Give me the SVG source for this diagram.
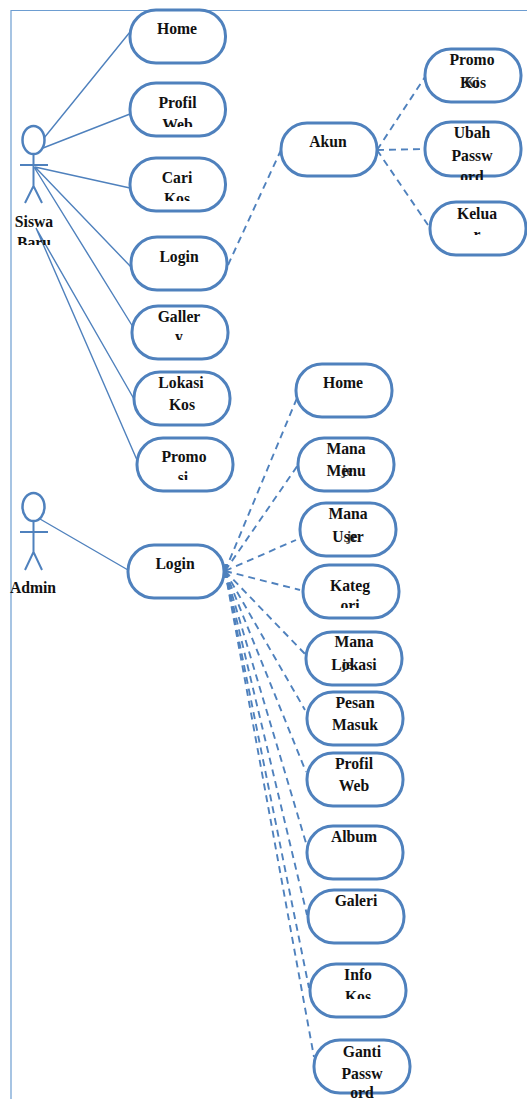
<svg xmlns="http://www.w3.org/2000/svg" width="527" height="1099" viewBox="0 0 527 1099">
<style>
.n{fill:#fff;stroke:#4f81bd;stroke-width:3}
.a{fill:none;stroke:#4f81bd;stroke-width:2.5}
.l{fill:none;stroke:#4f81bd;stroke-width:2}
.s{stroke:#4f81bd;stroke-width:1.4;fill:none}
.d{stroke:#4f81bd;stroke-width:1.9;fill:none;stroke-dasharray:7 5}
.h{font-size:14px;fill:#444}
text{font-family:"Liberation Serif","Times New Roman",serif;font-weight:700;font-size:15.7px;fill:#111;text-anchor:middle}
</style>
<defs>
<marker id="o" markerWidth="8" markerHeight="8" refX="0" refY="4" orient="auto-start-reverse" markerUnits="userSpaceOnUse"><path d="M6 0.5L0 4L6 7.500" fill="none" stroke="#4f81bd" stroke-width="1.6"/></marker>
<clipPath id="c1"><rect x="130" y="83" width="96" height="44"/></clipPath>
<clipPath id="c2"><rect x="130" y="158" width="96" height="43"/></clipPath>
<clipPath id="c3"><rect x="132" y="306" width="96" height="34"/></clipPath>
<clipPath id="c4"><rect x="137" y="438" width="96" height="42"/></clipPath>
<clipPath id="c5"><rect x="430" y="202" width="96" height="33"/></clipPath>
<clipPath id="c6"><rect x="303" y="565" width="96" height="43"/></clipPath>
<clipPath id="c7"><rect x="310" y="964" width="96" height="35"/></clipPath>
<clipPath id="c8"><rect x="0" y="205" width="70" height="40"/></clipPath>
<clipPath id="c9"><rect x="425" y="122" width="96" height="58"/></clipPath>
</defs>
<path id="frame" d="M11 1099V10.500H527" fill="none" stroke="#6d9dd1" stroke-width="1.2"/>
<g id="connectors">
<path class="s" d="M44 138L130 32M43 148L130 114M35 167L130 188M35 167L131 267M34 167L133 327M36 228L134 399M36 228L137 460M40 519L128 570"/>
<path class="d" d="M228 265L281 150"/>
<path class="d" marker-start="url(#o)" d="M377 150L425 77"/>
<path class="d" marker-start="url(#o)" d="M377 150L425 149"/>
<path class="d" marker-start="url(#o)" d="M377 150L428 225"/>
<path class="d" marker-start="url(#o)" d="M225 571L297 398"/>
<path class="d" marker-start="url(#o)" d="M225 571L298 465"/>
<path class="d" marker-start="url(#o)" d="M225 571L296 540"/>
<path class="d" marker-start="url(#o)" d="M225 571L300 590"/>
<path class="d" marker-start="url(#o)" d="M225 571L306 655"/>
<path class="d" marker-start="url(#o)" d="M225 571L305 710"/>
<path class="d" marker-start="url(#o)" d="M225 571L306 772"/>
<path class="d" marker-start="url(#o)" d="M225 571L306 843"/>
<path class="d" marker-start="url(#o)" d="M225 571L307 915"/>
<path class="d" marker-start="url(#o)" d="M225 571L309 988"/>
<path class="d" marker-start="url(#o)" d="M225 571L314 1057"/>
</g>
<g id="actor-siswa">
<ellipse class="a" cx="33.500" cy="140" rx="11" ry="14"/>
<path class="l" d="M33.500 154V186M20 165H48M33.500 186L25 203M33.500 186L42 203"/>
<text x="34" y="227">Siswa</text>
<text x="34" y="248" clip-path="url(#c8)">Baru</text>
</g>
<g id="actor-admin">
<ellipse class="a" cx="33.500" cy="507" rx="11" ry="14"/>
<path class="l" d="M33.500 521V552M20 532H48M33.500 552L25 570M33.500 552L42 570"/>
<text x="33" y="593">Admin</text>
</g>
<g id="home"><rect class="n" x="130" y="10" width="95.500" height="53" rx="26"/><text x="177" y="34">Home</text></g>
<g id="profil-web"><rect class="n" x="130" y="83" width="95.500" height="53" rx="26"/><text x="177.500" y="108">Profil</text><text x="177.500" y="130" clip-path="url(#c1)">Web</text></g>
<g id="cari-kos"><rect class="n" x="130" y="158" width="95.500" height="53" rx="26"/><text x="177" y="183">Cari</text><text x="177" y="204" clip-path="url(#c2)">Kos</text></g>
<g id="login-siswa"><rect class="n" x="131" y="237" width="96" height="53" rx="26"/><text x="179" y="262">Login</text></g>
<g id="gallery"><rect class="n" x="132" y="306" width="96" height="53" rx="26"/><text x="179" y="322">Galler</text><text x="179" y="342" clip-path="url(#c3)">y</text></g>
<g id="lokasi-kos"><rect class="n" x="134" y="372" width="96" height="53" rx="26"/><text x="181" y="388">Lokasi</text><text x="182" y="410">Kos</text></g>
<g id="promosi"><rect class="n" x="137" y="438" width="96" height="53" rx="26"/><text x="184" y="462">Promo</text><text x="183" y="483" clip-path="url(#c4)">si</text></g>
<g id="akun"><rect class="n" x="281" y="123" width="96" height="53" rx="26"/><text x="328" y="147">Akun</text></g>
<g id="promo-kos"><rect class="n" x="425" y="49" width="96" height="53" rx="26"/><text x="472" y="65">Promo</text><text class="h" x="472" y="87">Ki</text><text x="473" y="88">Kos</text></g>
<g id="ubah-password"><rect class="n" x="425" y="122" width="96" height="54" rx="26"/><text x="472" y="138">Ubah</text><text x="472" y="161">Passw</text><text x="472" y="182" clip-path="url(#c9)">ord</text></g>
<g id="keluar"><rect class="n" x="430" y="202" width="96" height="53" rx="26"/><text x="477" y="219">Kelua</text><text x="477" y="240" clip-path="url(#c5)">r</text></g>
<g id="login-admin"><rect class="n" x="128" y="545" width="96" height="53" rx="26"/><text x="175" y="569">Login</text></g>
<g id="home-admin"><rect class="n" x="296" y="364" width="96" height="53" rx="26"/><text x="343" y="388">Home</text></g>
<g id="manajemen-menu"><rect class="n" x="298" y="438" width="96" height="53" rx="26"/><text x="346" y="454">Mana</text><text class="h" x="347" y="475">je</text><text x="346" y="476">Menu</text></g>
<g id="manajemen-user"><rect class="n" x="300" y="503" width="96" height="53" rx="26"/><text x="348" y="519">Mana</text><text class="h" x="352" y="541">je</text><text x="348" y="542">User</text></g>
<g id="kategori"><rect class="n" x="303" y="565" width="96" height="53" rx="26"/><text x="350" y="591">Kateg</text><text x="350" y="611" clip-path="url(#c6)">ori</text></g>
<g id="manajemen-lokasi"><rect class="n" x="306" y="632" width="96" height="53" rx="26"/><text x="354" y="647">Mana</text><text class="h" x="347" y="669">je</text><text x="354" y="670">Lokasi</text></g>
<g id="pesan-masuk"><rect class="n" x="307" y="692" width="96" height="53" rx="26"/><text x="355" y="708">Pesan</text><text x="355" y="730">Masuk</text></g>
<g id="profil-web-admin"><rect class="n" x="307" y="753" width="96" height="53" rx="26"/><text x="354" y="769">Profil</text><text x="354" y="791">Web</text></g>
<g id="album"><rect class="n" x="307" y="826" width="96" height="53" rx="26"/><text x="354" y="842">Album</text></g>
<g id="galeri"><rect class="n" x="308" y="890" width="96" height="53" rx="26"/><text x="356" y="906">Galeri</text></g>
<g id="info-kos"><rect class="n" x="310" y="964" width="96" height="53" rx="26"/><text x="358" y="980">Info</text><text x="358" y="1002" clip-path="url(#c7)">Kos</text></g>
<g id="ganti-password"><rect class="n" x="314" y="1040" width="96" height="53" rx="26"/><text x="362" y="1057">Ganti</text><text x="362" y="1079">Passw</text><text x="362" y="1098">ord</text></g>
</svg>
